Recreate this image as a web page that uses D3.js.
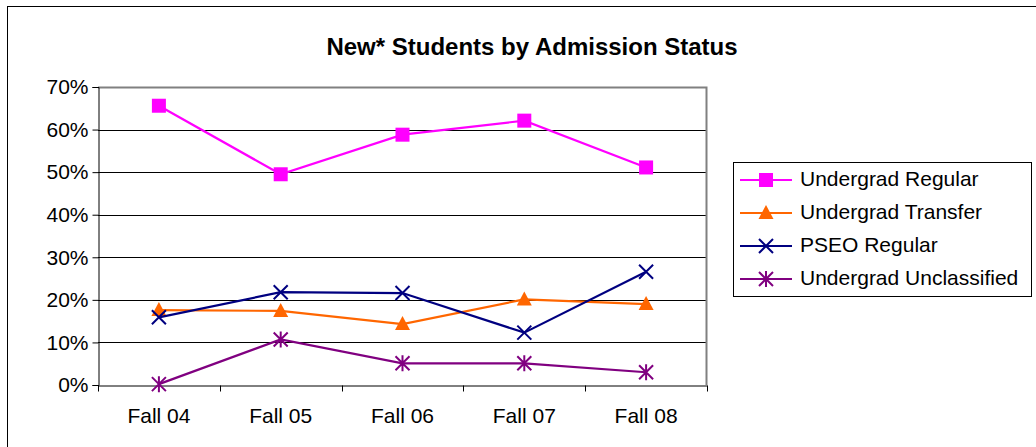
<!DOCTYPE html>
<html>
<head>
<meta charset="utf-8">
<script src="https://cdn.jsdelivr.net/npm/d3@7"></script>
<style>
  body { margin: 0; background: #fff; }
  svg { display: block; font-family: Arial, "Liberation Sans", sans-serif; }
</style>
</head>
<body>
<svg id="chart" width="1036" height="447"></svg>
<script>
const categories = ["Fall 04", "Fall 05", "Fall 06", "Fall 07", "Fall 08"];
const seriesNames = ["Undergrad Regular", "Undergrad Transfer", "PSEO Regular", "Undergrad Unclassified"];
const undergradRegular = [65.6, 49.5, 58.8, 62.1, 51.1];
const undergradTransfer = [17.6, 17.4, 14.3, 20.1, 19.0];
const pseoRegular = [15.9, 21.8, 21.6, 12.3, 26.6];
const undergradUnclassified = [0.2, 10.7, 5.1, 5.1, 3.0];
const yTicks = [0, 10, 20, 30, 40, 50, 60, 70];

const colors = ["#FF00FF", "#FF6600", "#000080", "#800080"];
const shapes = ["square", "triangle", "x", "star"];
const allValues = [undergradRegular, undergradTransfer, pseoRegular, undergradUnclassified];

const font = "Arial, 'Liberation Sans', sans-serif";
const svg = d3.select("#chart");

// outer chart frame (right / bottom sides run off the picture)
svg.append("rect")
  .attr("x", 7.5).attr("y", 6.5)
  .attr("width", 1040).attr("height", 450)
  .attr("fill", "none").attr("stroke", "#000").attr("stroke-width", 1);

svg.append("text")
  .attr("x", 532).attr("y", 55)
  .attr("text-anchor", "middle")
  .attr("font-size", 24).attr("font-weight", "bold")
  .text("New* Students by Admission Status");

const plot = { left: 98, right: 707, top: 87, bottom: 385 };

const x = d3.scaleBand().domain(categories).range([plot.left, plot.right]);
const y = d3.scaleLinear().domain([0, 70]).range([plot.bottom, plot.top]);

// gridlines
svg.append("g")
  .selectAll("line")
  .data(yTicks.slice(1))
  .enter()
  .append("line")
  .attr("x1", plot.left).attr("x2", plot.right)
  .attr("y1", d => Math.round(y(d)) + 0.5).attr("y2", d => Math.round(y(d)) + 0.5)
  .attr("stroke", "#000").attr("stroke-width", 1);

// plot area border (top + right grey)
svg.append("path")
  .attr("d", `M${plot.left},${plot.top + 0.5}H${plot.right - 0.5}V${plot.bottom}`)
  .attr("fill", "none").attr("stroke", "#808080").attr("stroke-width", 2);

// y axis
const yAxis = svg.append("g")
  .attr("transform", `translate(${plot.left + 0.5},0)`)
  .call(d3.axisLeft(y).tickValues(yTicks).tickSize(6).tickPadding(4).tickFormat(d => d + "%"));
yAxis.select(".domain").attr("stroke", "#000");
yAxis.selectAll("text").attr("font-size", 21).attr("font-family", font).attr("fill", "#000");

// x axis
const xAxis = svg.append("g")
  .attr("transform", `translate(0,${plot.bottom + 0.5})`)
  .call(d3.axisBottom(x).tickSize(0).tickPadding(23));
xAxis.select(".domain").attr("stroke", "#000");
xAxis.selectAll("text").attr("font-size", 21).attr("font-family", font).attr("fill", "#000");
// category boundary ticks
xAxis.selectAll(".bound")
  .data(categories.map(c => x(c)).concat([plot.right]))
  .enter()
  .append("line")
  .attr("x1", d => Math.round(d) + 0.5).attr("x2", d => Math.round(d) + 0.5)
  .attr("y1", 0).attr("y2", 6)
  .attr("stroke", "#000");

function drawMarker(g, shape, color) {
  if (shape === "square") {
    g.append("rect").attr("x", -7).attr("y", -7).attr("width", 14).attr("height", 14)
      .attr("fill", color);
  } else if (shape === "triangle") {
    g.append("path").attr("d", "M0,-8L7.5,6L-7.5,6Z").attr("fill", color);
  } else if (shape === "x") {
    g.append("path").attr("d", "M-7,-7L7,7M-7,7L7,-7")
      .attr("stroke", color).attr("stroke-width", 2).attr("fill", "none");
  } else {
    g.append("path").attr("d", "M-7,-7L7,7M-7,7L7,-7M0,-8V8")
      .attr("stroke", color).attr("stroke-width", 2).attr("fill", "none");
  }
}

const line = d3.line()
  .x((d, i) => x(categories[i]) + x.bandwidth() / 2)
  .y(d => y(d));

allValues.forEach((vals, si) => {
  svg.append("path")
    .datum(vals)
    .attr("d", line)
    .attr("fill", "none")
    .attr("stroke", colors[si])
    .attr("stroke-width", 2.2);
  vals.forEach((v, i) => {
    const g = svg.append("g")
      .attr("transform", `translate(${x(categories[i]) + x.bandwidth() / 2},${y(v)})`);
    drawMarker(g, shapes[si], colors[si]);
  });
});

// legend
const legend = svg.append("g");
legend.append("rect")
  .attr("x", 733.5).attr("y", 162.5)
  .attr("width", 298).attr("height", 134)
  .attr("fill", "#fff").attr("stroke", "#000").attr("stroke-width", 1);

seriesNames.forEach((name, i) => {
  const ly = 180 + i * 33;
  legend.append("line")
    .attr("x1", 740).attr("x2", 792)
    .attr("y1", ly).attr("y2", ly)
    .attr("stroke", colors[i]).attr("stroke-width", 2.2);
  const g = legend.append("g").attr("transform", `translate(766,${ly})`);
  drawMarker(g, shapes[i], colors[i]);
  legend.append("text")
    .attr("x", 800).attr("y", ly + 6)
    .attr("font-size", 21)
    .attr("font-family", font)
    .text(name);
});
</script>
</body>
</html>
